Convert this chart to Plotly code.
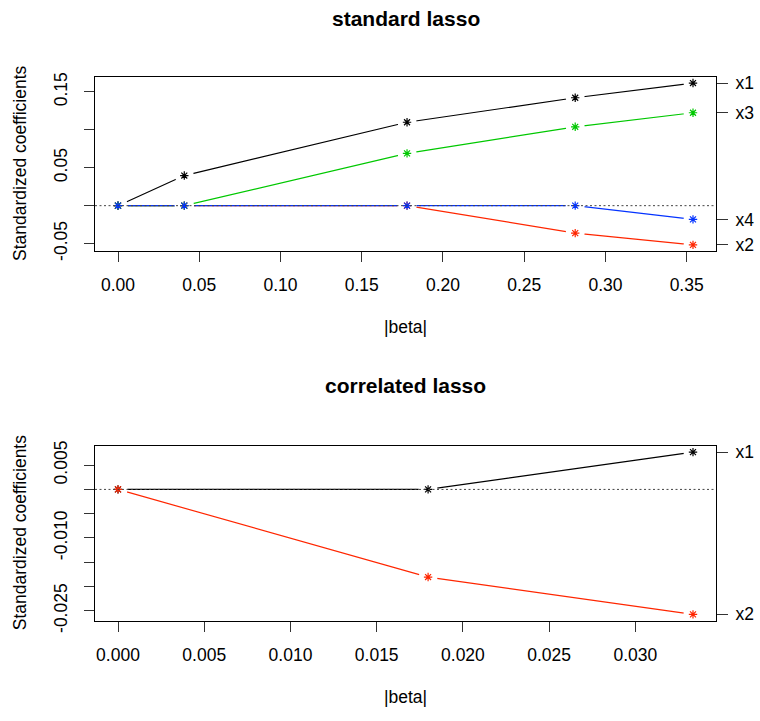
import plotly.graph_objects as go

# ---- data: standard lasso ----
beta_std = [0.0, 0.0408, 0.1779, 0.2814, 0.3539]
std_x1 = [0.0, 0.0397, 0.1100, 0.1423, 0.1617]
std_x2 = [0.0, 0.0, 0.0, -0.0362, -0.0517]
std_x3 = [0.0, 0.0, 0.0690, 0.1040, 0.1225]
std_x4 = [0.0, 0.0, 0.0, 0.0, -0.0181]

# ---- data: correlated lasso ----
beta_cor = [0.0, 0.01798, 0.03334]
cor_x1 = [0.0, 0.0, 0.00768]
cor_x2 = [0.0, -0.01806, -0.02574]

std_names = ["x1", "x2", "x3", "x4"]
cor_names = ["x1", "x2"]
colors = ["#000000", "#FF2600", "#00C800", "#0433FF"]

std_xticks = [0.0, 0.05, 0.10, 0.15, 0.20, 0.25, 0.30, 0.35]
std_yticks = [-0.05, 0.0, 0.05, 0.10, 0.15]
std_ytext = ["-0.05", "", "0.05", "", "0.15"]
cor_xticks = [0.0, 0.005, 0.010, 0.015, 0.020, 0.025, 0.030]
cor_yticks = [0.005, 0.0, -0.005, -0.010, -0.015, -0.020, -0.025]
cor_ytext = ["0.005", "", "", "-0.010", "", "", "-0.025"]

FONT = "Liberation Sans, Arial, Helvetica, sans-serif"
FS = 17.5
W, H = 760, 721


def py(v):
    """page pixel row -> paper coordinate"""
    return 1 - v / H


fig = go.Figure()


def rng(vals):
    lo, hi = min(vals), max(vals)
    d = (hi - lo) * 0.04
    return [lo - d, hi + d]


def add_panel(beta, series, names, xa, ya, yr):
    for i, s in enumerate(series):
        fig.add_trace(go.Scatter(x=beta, y=s, mode="lines", xaxis=xa, yaxis=ya,
                                 line=dict(color=colors[i], width=1.2),
                                 showlegend=False, hoverinfo="skip"))
    for i, s in enumerate(series):
        fig.add_trace(go.Scatter(x=beta, y=s, mode="markers", xaxis=xa, yaxis=ya,
                                 marker=dict(symbol="circle", size=19, color="white",
                                             line=dict(width=0)),
                                 showlegend=False, hoverinfo="skip"))
    for i, s in enumerate(series):
        fig.add_trace(go.Scatter(x=beta, y=s, mode="markers", xaxis=xa, yaxis=ya,
                                 marker=dict(symbol="asterisk-open", size=7,
                                             color=colors[i],
                                             line=dict(color=colors[i], width=1.2)),
                                 showlegend=False, name=names[i]))
    fig.add_trace(go.Scatter(x=[beta[-1]] * len(series), y=[s[-1] for s in series],
                             mode="markers", xaxis=xa, yaxis=yr,
                             marker=dict(opacity=0), showlegend=False, hoverinfo="skip"))


add_panel(beta_std, [std_x1, std_x2, std_x3, std_x4], std_names, "x", "y", "y3")
add_panel(beta_cor, [cor_x1, cor_x2], cor_names, "x2", "y2", "y4")

xdom = [95 / W, 716 / W]
top_dom = [py(252.3), py(73.3)]
bot_dom = [py(630.7), py(451.3)]

std_xr = rng(beta_std)
std_yr = rng(std_x1 + std_x2 + std_x3 + std_x4)
cor_xr = rng(beta_cor)
cor_yr = rng(cor_x1 + cor_x2)

tickfont = dict(family=FONT, size=FS, color="black")
common_x = dict(showgrid=False, zeroline=False, showline=True, mirror=True,
                linecolor="black", linewidth=1, ticks="outside", ticklen=10,
                tickcolor="#333", tickwidth=1, tickfont=tickfont, ticklabelstandoff=8)
common_y = dict(showgrid=False, zeroline=False, showline=True, mirror=True,
                linecolor="black", linewidth=1, ticks="outside", ticklen=10,
                tickcolor="#333", tickwidth=1, tickfont=tickfont, tickangle=-90,
                ticklabelstandoff=10)
right_y = dict(showgrid=False, zeroline=False, showline=False, side="right",
               ticks="outside", ticklen=11, tickcolor="#333", tickwidth=1,
               tickfont=tickfont, ticklabelstandoff=4)

std_final = [s[-1] for s in [std_x1, std_x2, std_x3, std_x4]]
cor_final = [s[-1] for s in [cor_x1, cor_x2]]

fig.update_layout(
    width=W, height=H, margin=dict(l=0, r=0, t=0, b=0),
    paper_bgcolor="white", plot_bgcolor="white", showlegend=False,
    xaxis=dict(common_x, domain=xdom, range=std_xr, anchor="y",
               tickvals=std_xticks, tickformat=".2f"),
    yaxis=dict(common_y, domain=top_dom, range=std_yr, anchor="x",
               tickvals=std_yticks, ticktext=std_ytext),
    yaxis3=dict(right_y, overlaying="y", anchor="x", range=std_yr,
                tickvals=std_final, ticktext=std_names),
    xaxis2=dict(common_x, domain=xdom, range=cor_xr, anchor="y2",
                tickvals=cor_xticks, tickformat=".3f"),
    yaxis2=dict(common_y, domain=bot_dom, range=cor_yr, anchor="x2",
                tickvals=cor_yticks, ticktext=cor_ytext),
    yaxis4=dict(right_y, overlaying="y2", anchor="x2", range=cor_yr,
                tickvals=cor_final, ticktext=cor_names),
)

dotline = dict(color="#444", width=1, dash="2px,2.5px")
fig.add_shape(type="line", xref="x domain", yref="y", x0=0, x1=1, y0=0, y1=0,
              line=dotline, layer="above")
fig.add_shape(type="line", xref="x2 domain", yref="y2", x0=0, x1=1, y0=0, y1=0,
              line=dotline, layer="above")

xc = (xdom[0] + xdom[1]) / 2
ann = [
    dict(text="<b>standard lasso</b>", x=xc, y=py(14), size=21),
    dict(text="<b>correlated lasso</b>", x=xc, y=py(390), size=21),
    dict(text="|beta|", x=xc, y=py(330), size=FS),
    dict(text="|beta|", x=xc, y=py(709), size=FS),
]
for a in ann:
    fig.add_annotation(text=a["text"], x=a["x"], y=a["y"], xref="paper", yref="paper",
                       showarrow=False, xanchor="center", yanchor="middle",
                       font=dict(family=FONT, size=a["size"], color="black"))
for yc in [(top_dom[0] + top_dom[1]) / 2, (bot_dom[0] + bot_dom[1]) / 2]:
    fig.add_annotation(text="Standardized coefficients", x=20 / W, y=yc,
                       xref="paper", yref="paper", showarrow=False, textangle=-90,
                       xanchor="center", yanchor="middle",
                       font=dict(family=FONT, size=FS, color="black"))

fig.write_html("out.html")
